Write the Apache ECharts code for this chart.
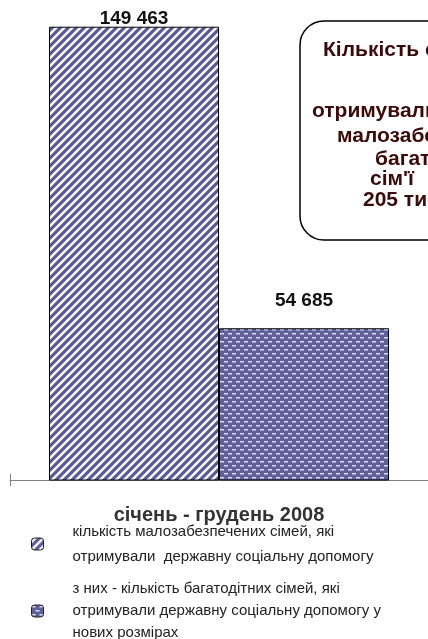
<!DOCTYPE html>
<html>
<head>
<meta charset="utf-8">
<script src="https://cdn.jsdelivr.net/npm/echarts@6/dist/echarts.min.js"></script>
<style>
    html, body { margin: 0; padding: 0; background: #fff; }
    #chart { width: 428px; height: 639px; }
</style>
</head>
<body>
<div id="chart"></div>
<script>
    // дані діаграми
    const categories = ['січень - грудень 2008'];
    const seriesNames = [
        'кількість малозабезпечених сімей, які\nотримували  державну соціальну допомогу',
        'з них - кількість багатодітних сімей, які\nотримували державну соціальну допомогу у\nнових розмірах'
    ];
    const poorFamilies = [149463];
    const largeFamilies = [54685];
    const noteLines = ['Кількість сімей, які', 'отримували допомогу', 'малозабезпечених', 'багатодітних', "сім'ї", '205 тис.'];

    const FONT = '"Liberation Sans", Arial, sans-serif';

    function fmt(v) {
        return String(v).replace(/\B(?=(\d{3})+(?!\d))/g, ' ');
    }

    // штрихування для першого стовпця
    function stripes() {
        let c = document.createElement('canvas');
        c.width = 8; c.height = 8;
        let ctx = c.getContext('2d');
        ctx.fillStyle = '#fff';
        ctx.fillRect(0, 0, 8, 8);
        ctx.strokeStyle = '#5a5a97';
        ctx.lineWidth = 3.2;
        ctx.beginPath();
        ctx.moveTo(-4, 4); ctx.lineTo(4, -4);
        ctx.moveTo(0, 8); ctx.lineTo(8, 0);
        ctx.moveTo(4, 12); ctx.lineTo(12, 4);
        ctx.stroke();
        return c;
    }

    // "цеглинки" для другого стовпця
    function bricks() {
        let c = document.createElement('canvas');
        c.width = 8; c.height = 8;
        let ctx = c.getContext('2d');
        ctx.fillStyle = '#60609c';
        ctx.fillRect(0, 0, 8, 8);
        ctx.fillStyle = '#dcdcf0';
        ctx.fillRect(0, 1, 4, 1.5);
        ctx.fillRect(4, 5, 4, 1.5);
        return c;
    }

    let chart = echarts.init(document.getElementById('chart'));

    let noteGraphic = [{
        type: 'rect',
        shape: { x: 300, y: 21, width: 270, height: 219, r: 24 },
        style: { fill: '#fff', stroke: '#000', lineWidth: 1.5 }
    }];
    const noteX = [323, 312, 337, 375, 370, 363];
    const noteY = [40, 101, 126, 149, 169, 190];
    noteLines.forEach((t, i) => {
        noteGraphic.push({
            type: 'text',
            x: noteX[i],
            y: noteY[i],
            style: { text: t, font: 'bold 21px ' + FONT, fill: '#3b0a0a' }
        });
    });

    let legendBase = {
        orient: 'vertical',
        left: 26,
        itemWidth: 12,
        itemHeight: 12,
        selectedMode: false,
        itemStyle: { borderColor: '#222', borderWidth: 1 },
        textStyle: {
            fontFamily: FONT,
            fontSize: 15,
            color: '#222',
            padding: [0, 0, 0, 24]
        }
    };

    let option = {
        animation: false,
        grid: { left: 10, right: 0, top: 25, bottom: 159 },
        legend: [
            Object.assign({}, legendBase, {
                top: 514,
                data: [seriesNames[0]],
                textStyle: Object.assign({}, legendBase.textStyle, { lineHeight: 25 })
            }),
            Object.assign({}, legendBase, {
                top: 573,
                data: [seriesNames[1]],
                textStyle: Object.assign({}, legendBase.textStyle, { lineHeight: 22 })
            })
        ],
        xAxis: [
            {
                type: 'category',
                data: categories,
                axisLine: { lineStyle: { color: '#808080', width: 1 } },
                axisTick: { show: true, length: 6, lineStyle: { color: '#808080' } },
                axisLabel: {
                    margin: 25,
                    fontFamily: FONT,
                    fontSize: 20,
                    fontWeight: 'bold',
                    color: '#333'
                }
            },
            {
                type: 'category',
                position: 'bottom',
                data: categories,
                axisLine: { show: false },
                axisTick: { show: true, inside: true, length: 6, lineStyle: { color: '#808080' } },
                axisLabel: { show: false }
            }
        ],
        yAxis: {
            type: 'value',
            show: false,
            min: 7000,
            max: 150000,
            splitLine: { show: false }
        },
        series: [
            {
                name: seriesNames[0],
                type: 'bar',
                data: poorFamilies,
                barWidth: 170,
                barGap: '0%',
                itemStyle: {
                    color: { image: stripes(), repeat: 'repeat' },
                    borderColor: '#000',
                    borderWidth: 1
                },
                label: {
                    show: true,
                    position: 'top',
                    distance: -2,
                    formatter: p => fmt(p.value),
                    fontFamily: FONT,
                    fontSize: 19,
                    fontWeight: 'bold',
                    color: '#111'
                }
            },
            {
                name: seriesNames[1],
                type: 'bar',
                data: largeFamilies,
                barWidth: 170,
                itemStyle: {
                    color: { image: bricks(), repeat: 'repeat' },
                    borderColor: '#000',
                    borderWidth: 1
                },
                label: {
                    show: true,
                    position: 'top',
                    distance: 18,
                    formatter: p => fmt(p.value),
                    fontFamily: FONT,
                    fontSize: 19,
                    fontWeight: 'bold',
                    color: '#111'
                }
            }
        ],
        graphic: noteGraphic
    };

    chart.setOption(option, true);
    window.addEventListener('resize', function () {
        chart.resize();
    });
</script>
</body>
</html>
